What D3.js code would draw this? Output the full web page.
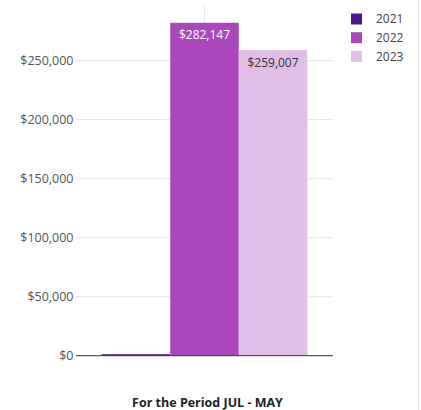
<!DOCTYPE html>
<html>
<head>
<meta charset="utf-8">
<script src="https://cdn.jsdelivr.net/npm/d3@7"></script>
<style>
  body { margin: 0; background: #fff; }
  svg { display: block; font-family: "Open Sans", sans-serif; }
</style>
</head>
<body>
<svg width="421" height="410"></svg>
<script>
// data
const category = 'For the Period JUL - MAY';
const years = ['2021', '2022', '2023'];
const values = [1250, 282147, 259007];
const colors = ['#4a148c', '#ab47bc', '#e1bee7'];
const labelColors = [null, '#ffffff', '#333333'];
const yTicks = [0, 50000, 100000, 150000, 200000, 250000];

const svg = d3.select('svg');
const margin = {top: 2, left: 76, right: 88, bottom: 54};
const width = 421, height = 410;
const plotTop = 5;
const y0 = 355.7;

const yscale = d3.scaleLinear()
    .domain([0, 300000])
    .range([y0, 1.7]);

const x0 = d3.scaleBand()
    .domain([category])
    .range([margin.left, width - margin.right])
    .paddingOuter(0.125)
    .paddingInner(0);

const x1 = d3.scaleBand()
    .domain(years)
    .range([x0(category), x0(category) + x0.bandwidth()])
    .padding(0);

const fmt = d => '$' + d3.format(',')(d);

// right border
svg.append('line')
    .attr('x1', 418.5).attr('x2', 418.5)
    .attr('y1', 0).attr('y2', height)
    .attr('stroke', '#e3e3e3');

// horizontal grid
svg.append('g').selectAll('line').data(yTicks.filter(d => d > 0))
  .enter().append('line')
    .attr('x1', margin.left).attr('x2', width - margin.right)
    .attr('y1', d => yscale(d)).attr('y2', d => yscale(d))
    .attr('stroke', '#e6e6e6');

// vertical grid at category centre
svg.append('line')
    .attr('x1', x0(category) + x0.bandwidth() / 2)
    .attr('x2', x0(category) + x0.bandwidth() / 2)
    .attr('y1', plotTop).attr('y2', y0)
    .attr('stroke', '#e6e6e6');

// y tick labels
svg.append('g').selectAll('text').data(yTicks)
  .enter().append('text')
    .attr('x', 73.5)
    .attr('y', d => yscale(d))
    .attr('dy', '0.35em')
    .attr('text-anchor', 'end')
    .attr('font-size', 12.5)
    .attr('fill', '#555')
    .text(fmt);

// bars
const data = years.map((y, i) => ({year: y, value: values[i], color: colors[i], lc: labelColors[i]}));

svg.append('g').selectAll('rect').data(data)
  .enter().append('rect')
    .attr('x', d => x1(d.year))
    .attr('y', d => yscale(d.value))
    .attr('width', x1.bandwidth())
    .attr('height', d => y0 - yscale(d.value))
    .attr('fill', d => d.color);

// value labels
svg.append('g').selectAll('text').data(data.filter(d => d.lc))
  .enter().append('text')
    .attr('x', d => x1(d.year) + x1.bandwidth() / 2)
    .attr('y', d => yscale(d.value) + 16.5)
    .attr('text-anchor', 'middle')
    .attr('font-size', 12)
    .attr('fill', d => d.lc)
    .text(d => fmt(d.value));

// baseline
svg.append('line')
    .attr('x1', margin.left).attr('x2', width - margin.right)
    .attr('y1', y0).attr('y2', y0)
    .attr('stroke', '#333');

// x axis title
svg.append('text')
    .attr('x', 207.5)
    .attr('y', 406.5)
    .attr('text-anchor', 'middle')
    .attr('font-size', 12.5)
    .attr('font-weight', 'bold')
    .attr('fill', '#222')
    .text(category);

// legend
const legend = svg.append('g').selectAll('g').data(data)
  .enter().append('g')
    .attr('transform', (d, i) => `translate(351,${13.5 + i * 18.7})`);
legend.append('rect')
    .attr('width', 11).attr('height', 11)
    .attr('fill', d => d.color);
legend.append('text')
    .attr('x', 25).attr('y', 5.5)
    .attr('dy', '0.35em')
    .attr('font-size', 12)
    .attr('fill', '#444')
    .text(d => d.year);
</script>
</body>
</html>
